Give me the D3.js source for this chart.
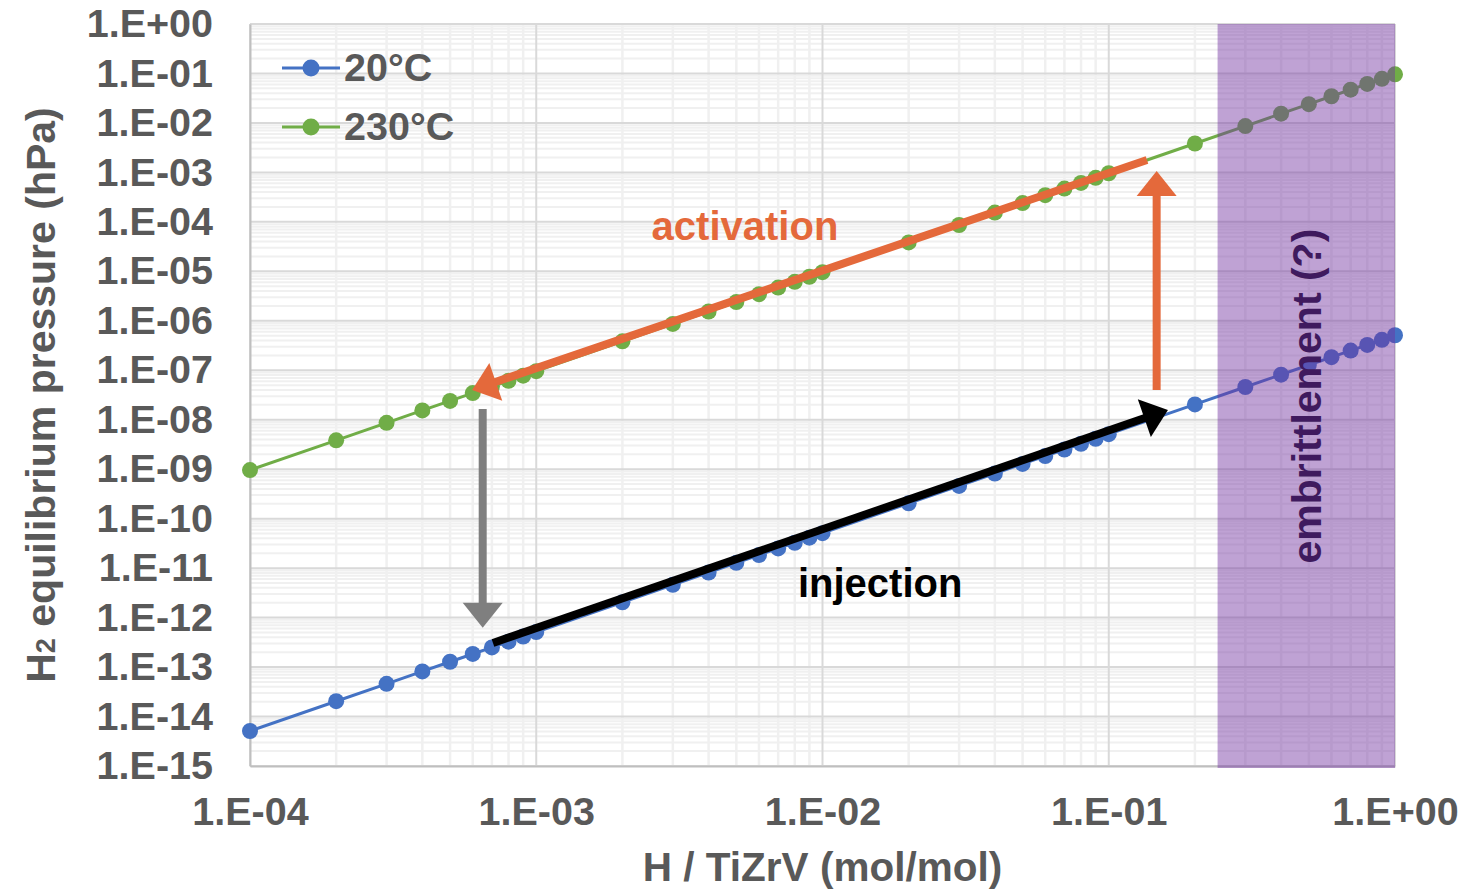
<!DOCTYPE html>
<html>
<head>
<meta charset="utf-8">
<title>H2 equilibrium pressure</title>
<script src="https://cdn.jsdelivr.net/npm/d3@7"></script>
<style>
  body { margin: 0; background: #fff; }
  text { font-family: "Liberation Sans", Arial, sans-serif; font-weight: bold; }
</style>
</head>
<body>
<div id="chart"></div>
<script>
// H / TiZrV ratio (mol/mol)
var hRatio = [1e-4, 2e-4, 3e-4, 4e-4, 5e-4, 6e-4, 7e-4, 8e-4, 9e-4,
              1e-3, 2e-3, 3e-3, 4e-3, 5e-3, 6e-3, 7e-3, 8e-3, 9e-3,
              1e-2, 2e-2, 3e-2, 4e-2, 5e-2, 6e-2, 7e-2, 8e-2, 9e-2,
              1e-1, 2e-1, 3e-1, 4e-1, 5e-1, 6e-1, 7e-1, 8e-1, 9e-1, 1];

// equilibrium pressure (hPa) at 20 °C
var p20 = [5.1e-15, 2.04e-14, 4.59e-14, 8.16e-14, 1.28e-13, 1.84e-13, 2.50e-13, 3.26e-13, 4.13e-13,
           5.1e-13, 2.04e-12, 4.59e-12, 8.16e-12, 1.28e-11, 1.84e-11, 2.50e-11, 3.26e-11, 4.13e-11,
           5.1e-11, 2.04e-10, 4.59e-10, 8.16e-10, 1.28e-9, 1.84e-9, 2.50e-9, 3.26e-9, 4.13e-9,
           5.1e-9, 2.04e-8, 4.59e-8, 8.16e-8, 1.28e-7, 1.84e-7, 2.50e-7, 3.26e-7, 4.13e-7, 5.1e-7];

// equilibrium pressure (hPa) at 230 °C
var p230 = [9.6e-10, 3.84e-9, 8.64e-9, 1.54e-8, 2.40e-8, 3.46e-8, 4.70e-8, 6.14e-8, 7.78e-8,
            9.6e-8, 3.84e-7, 8.64e-7, 1.54e-6, 2.40e-6, 3.46e-6, 4.70e-6, 6.14e-6, 7.78e-6,
            9.6e-6, 3.84e-5, 8.64e-5, 1.54e-4, 2.40e-4, 3.46e-4, 4.70e-4, 6.14e-4, 7.78e-4,
            9.6e-4, 3.84e-3, 8.64e-3, 1.54e-2, 2.40e-2, 3.46e-2, 4.70e-2, 6.14e-2, 7.78e-2, 9.6e-2];

var seriesNames = ["20°C", "230°C"];
var seriesColors = ["#4472c4", "#70ad47"];

var xTicks = [1e-4, 1e-3, 1e-2, 1e-1, 1];
var yTicks = [1, 1e-1, 1e-2, 1e-3, 1e-4, 1e-5, 1e-6, 1e-7, 1e-8, 1e-9, 1e-10, 1e-11, 1e-12, 1e-13, 1e-14, 1e-15];

// embrittlement zone (H/TiZrV)
var embrittleZone = [0.24, 1];

// annotation arrows, in data coordinates [H/TiZrV, hPa]
var arrowNames = ["activation", "heating", "cooling", "injection"];
var arrowFrom = [[0.136, 1.78e-3], [0.147, 4.0e-8], [6.5e-4, 1.65e-8], [7.06e-4, 3.07e-13]];
var arrowTo = [[5.97e-4, 4.0e-8], [0.147, 1.07e-3], [6.5e-4, 6.2e-13], [0.161, 1.57e-8]];
var arrowColors = ["#e4693b", "#e4693b", "#7f7f7f", "#000000"];

// annotation labels
var noteText = ["activation", "injection", "embrittlement (?)"];
var notePos = [[5.36e-3, 4.3e-5], [1.59e-2, 2.6e-12], [0.55, 3.0e-8]];
var noteColors = ["#e4693b", "#000000", "#3f1a5e"];

var width = 1476, height = 893;
var margin = {left: 250, right: 81, top: 24, bottom: 127};

var svg = d3.select("#chart").append("svg")
    .attr("width", width)
    .attr("height", height);

var x = d3.scaleLog().domain([1e-4, 1]).range([margin.left, width - margin.right]);
var y = d3.scaleLog().domain([1e-15, 1]).range([height - margin.bottom, margin.top]);

function fmtExp(v) {
  var e = Math.round(Math.log10(v));
  var a = Math.abs(e);
  return "1.E" + (e < 0 ? "-" : "+") + (a < 10 ? "0" + a : a);
}

// minor values 2..9 per decade
function minors(domain) {
  var out = [];
  var lo = Math.round(Math.log10(domain[0])), hi = Math.round(Math.log10(domain[1]));
  for (var e = lo; e < hi; e++) {
    for (var m = 2; m <= 9; m++) out.push(m * Math.pow(10, e));
  }
  return out;
}

var grid = svg.append("g");
grid.selectAll(".xminor").data(minors(x.domain())).enter().append("line")
    .attr("x1", d => x(d)).attr("x2", d => x(d))
    .attr("y1", y.range()[1]).attr("y2", y.range()[0])
    .attr("stroke", "#f0f0f0").attr("stroke-width", 2.5);
grid.selectAll(".yminor").data(minors(y.domain())).enter().append("line")
    .attr("x1", x.range()[0]).attr("x2", x.range()[1])
    .attr("y1", d => y(d)).attr("y2", d => y(d))
    .attr("stroke", "#f0f0f0").attr("stroke-width", 2);
grid.selectAll(".xmajor").data(xTicks).enter().append("line")
    .attr("x1", d => x(d)).attr("x2", d => x(d))
    .attr("y1", y.range()[1]).attr("y2", y.range()[0])
    .attr("stroke", "#d9d9d9").attr("stroke-width", 2);
grid.selectAll(".ymajor").data(yTicks).enter().append("line")
    .attr("x1", x.range()[0]).attr("x2", x.range()[1])
    .attr("y1", d => y(d)).attr("y2", d => y(d))
    .attr("stroke", "#d9d9d9").attr("stroke-width", 2);

// axes
var xAxis = svg.append("g")
    .attr("transform", "translate(0," + y.range()[0] + ")")
    .call(d3.axisBottom(x).tickValues(xTicks).tickFormat(fmtExp).tickSize(0).tickPadding(31));
var yAxis = svg.append("g")
    .attr("transform", "translate(" + x.range()[0] + ",0)")
    .call(d3.axisLeft(y).tickValues(yTicks).tickFormat(fmtExp).tickSize(0).tickPadding(37));
[xAxis, yAxis].forEach(function(a) {
  a.select(".domain").attr("stroke", "#bfbfbf").attr("stroke-width", 2);
  a.selectAll("text").attr("font-size", 39.5).attr("fill", "#595959")
    .style("font-family", "'Liberation Sans', Arial, sans-serif").style("font-weight", "bold");
});
xAxis.selectAll("text").attr("dy", "0.71em");

// series
var series = [p20, p230];
var line = d3.line().x(d => x(d[0])).y(d => y(d[1]));
series.forEach(function(vals, i) {
  var pts = hRatio.map((h, j) => [h, vals[j]]);
  svg.append("path").datum(pts)
      .attr("d", line).attr("fill", "none")
      .attr("stroke", seriesColors[i]).attr("stroke-width", 3);
  svg.append("g").selectAll("circle").data(pts).enter().append("circle")
      .attr("cx", d => x(d[0])).attr("cy", d => y(d[1])).attr("r", 8)
      .attr("fill", seriesColors[i]);
});

// embrittlement zone
svg.append("rect")
    .attr("x", x(embrittleZone[0])).attr("y", y.range()[1])
    .attr("width", x(embrittleZone[1]) - x(embrittleZone[0]))
    .attr("height", y.range()[0] - y.range()[1] + 2)
    .attr("fill", "#7030a0").attr("fill-opacity", 0.45);

// legend
var legend = svg.append("g");
seriesNames.forEach(function(name, i) {
  var ly = 68 + i * 59;
  legend.append("line").attr("x1", 282).attr("x2", 340).attr("y1", ly).attr("y2", ly)
      .attr("stroke", seriesColors[i]).attr("stroke-width", 3);
  legend.append("circle").attr("cx", 311).attr("cy", ly).attr("r", 8.5).attr("fill", seriesColors[i]);
  legend.append("text").attr("x", 344).attr("y", ly + 13)
      .attr("font-size", 39.5).attr("fill", "#595959").text(name);
});

// arrows
var headLen = 25, headW = 40;
arrowNames.forEach(function(n, i) {
  var x0 = x(arrowFrom[i][0]), y0 = y(arrowFrom[i][1]);
  var x1 = x(arrowTo[i][0]), y1 = y(arrowTo[i][1]);
  var dx = x1 - x0, dy = y1 - y0, len = Math.sqrt(dx * dx + dy * dy);
  var ux = dx / len, uy = dy / len;
  var bx = x1 - ux * headLen, by = y1 - uy * headLen;
  svg.append("line").attr("x1", x0).attr("y1", y0).attr("x2", bx + ux * 2).attr("y2", by + uy * 2)
      .attr("stroke", arrowColors[i]).attr("stroke-width", 8);
  svg.append("polygon")
      .attr("points", [[x1, y1], [bx - uy * headW / 2, by + ux * headW / 2], [bx + uy * headW / 2, by - ux * headW / 2]].join(" "))
      .attr("fill", arrowColors[i]);
});

// notes
noteText.forEach(function(t, i) {
  var nx = x(notePos[i][0]), ny = y(notePos[i][1]);
  var el = svg.append("text")
      .attr("font-size", i === 2 ? 41 : 40).attr("fill", noteColors[i])
      .attr("text-anchor", "middle").text(t);
  if (i === 2) el.attr("transform", "translate(" + nx + "," + ny + ") rotate(-90)");
  else el.attr("x", nx).attr("y", ny);
});

// axis titles
svg.append("text")
    .attr("x", (x.range()[0] + x.range()[1]) / 2).attr("y", 881)
    .attr("text-anchor", "middle").attr("font-size", 40.5).attr("fill", "#595959")
    .text("H / TiZrV (mol/mol)");
var yt = svg.append("text")
    .attr("transform", "translate(55," + (y.range()[0] + y.range()[1]) / 2 + ") rotate(-90)")
    .attr("text-anchor", "middle").attr("font-size", 41).attr("fill", "#595959");
yt.append("tspan").text("H");
yt.append("tspan").attr("font-size", 27).text("2");
yt.append("tspan").text(" equilibrium pressure (hPa)");
</script>
</body>
</html>
